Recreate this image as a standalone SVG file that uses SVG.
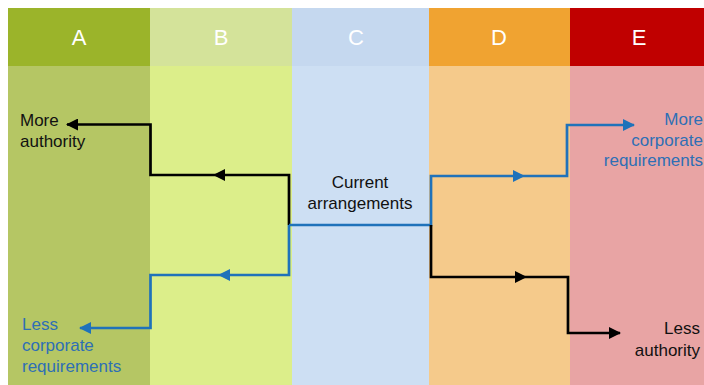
<svg xmlns="http://www.w3.org/2000/svg" width="704" height="385" viewBox="0 0 704 385">
<style>
.hd{font-family:"Liberation Sans",Arial,sans-serif;font-size:22px;fill:#fff;text-anchor:middle}
.t{font-family:"Liberation Sans",Arial,sans-serif;font-size:17px}
.k{fill:#111}
.b{fill:#2E6FB5}
.lk{fill:none;stroke:#000;stroke-width:2.7}
.lb{fill:none;stroke:#1F72BA;stroke-width:2.7}
</style>
<defs>
<marker id="ak" markerWidth="12" markerHeight="12" refX="11" refY="6" orient="auto" markerUnits="userSpaceOnUse"><path d="M0,0 L12,6 L0,12 Z" fill="#000"/></marker>
<marker id="ab" markerWidth="12" markerHeight="12" refX="11" refY="6" orient="auto" markerUnits="userSpaceOnUse"><path d="M0,0 L12,6 L0,12 Z" fill="#1F72BA"/></marker>
</defs>
<rect width="704" height="385" fill="#fff"/>
<g id="colA"><rect x="8" y="8" width="142" height="58" fill="#9BB42A"/><rect x="8" y="66" width="142" height="319" fill="#B5C664"/><text class="hd" x="79" y="45">A</text></g>
<g id="colB"><rect x="150" y="8" width="142" height="58" fill="#D4E39A"/><rect x="150" y="66" width="142" height="319" fill="#DCEE8A"/><text class="hd" x="221" y="45">B</text></g>
<g id="colC"><rect x="292" y="8" width="137" height="58" fill="#C5D8EF"/><rect x="292" y="66" width="137" height="319" fill="#CDDFF3"/><text class="hd" x="356" y="45">C</text></g>
<g id="colD"><rect x="429" y="8" width="141" height="58" fill="#F0A331"/><rect x="429" y="66" width="141" height="319" fill="#F5CA8B"/><text class="hd" x="499" y="45">D</text></g>
<g id="colE"><rect x="570" y="8" width="134" height="58" fill="#C00000"/><rect x="570" y="66" width="134" height="319" fill="#E8A4A4"/><text class="hd" x="639" y="45">E</text></g>
<g id="current"><text class="t k" x="360" y="188" text-anchor="middle">Current</text><text class="t k" x="360" y="209" text-anchor="middle">arrangements</text></g>
<g id="moreAuthority"><text class="t k" x="20" y="126">More</text><text class="t k" x="20" y="147">authority</text></g>
<g id="lessCorp"><text class="t b" x="22" y="330">Less</text><text class="t b" x="22" y="351">corporate</text><text class="t b" x="22" y="372">requirements</text></g>
<g id="moreCorp"><text class="t b" x="703" y="125" text-anchor="end">More</text><text class="t b" x="703" y="146" text-anchor="end">corporate</text><text class="t b" x="703" y="166" text-anchor="end">requirements</text></g>
<g id="lessAuthority"><text class="t k" x="700" y="334" text-anchor="end">Less</text><text class="t k" x="700" y="356" text-anchor="end">authority</text></g>
<g id="connectors">
<path class="lk" d="M289,225 V175 H214" marker-end="url(#ak)"/>
<path class="lk" d="M214,175 H150.5 V124.5 H67" marker-end="url(#ak)"/>
<path class="lb" d="M289,225 V275 H219" marker-end="url(#ab)"/>
<path class="lb" d="M219,275 H150.5 V328 H80" marker-end="url(#ab)"/>
<path class="lb" d="M289,225 H431 V176 H524" marker-end="url(#ab)"/>
<path class="lb" d="M524,176 H567 V125 H634" marker-end="url(#ab)"/>
<path class="lk" d="M431,225 V277 H526" marker-end="url(#ak)"/>
<path class="lk" d="M526,277 H568 V333 H620" marker-end="url(#ak)"/>
</g>
</svg>
